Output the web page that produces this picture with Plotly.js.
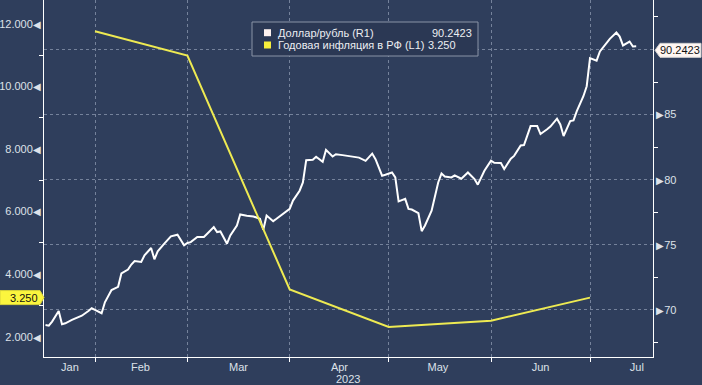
<!DOCTYPE html>
<html><head><meta charset="utf-8">
<script src="https://cdn.plot.ly/plotly-3.0.1.min.js"></script>
<style>html,body{margin:0;padding:0;background:#2f3e5c;} #chart{width:702px;height:385px;}</style>
</head><body><div id="chart"></div>
<script>
// ---- data ----
const usdDates = ['2023-01-16','2023-01-17','2023-01-18','2023-01-20','2023-01-21','2023-01-22','2023-01-24','2023-01-27','2023-01-29','2023-01-30','2023-01-31',
'2023-02-02','2023-02-03','2023-02-04','2023-02-05','2023-02-07','2023-02-08','2023-02-10','2023-02-11','2023-02-12','2023-02-14','2023-02-15','2023-02-17','2023-02-18','2023-02-19','2023-02-21','2023-02-23','2023-02-25','2023-02-27','2023-02-28',
'2023-03-01','2023-03-03','2023-03-05','2023-03-06','2023-03-08','2023-03-09','2023-03-10','2023-03-12','2023-03-13','2023-03-15','2023-03-16','2023-03-18','2023-03-20','2023-03-22','2023-03-23','2023-03-24','2023-03-26','2023-03-27','2023-03-29','2023-03-30','2023-03-31',
'2023-04-01','2023-04-03','2023-04-04','2023-04-05','2023-04-07','2023-04-08','2023-04-10','2023-04-11','2023-04-13','2023-04-14','2023-04-16','2023-04-18','2023-04-21','2023-04-23','2023-04-25','2023-04-26','2023-04-28','2023-04-29',
'2023-05-01','2023-05-02','2023-05-03','2023-05-05','2023-05-06','2023-05-07','2023-05-09','2023-05-10','2023-05-11','2023-05-13','2023-05-15','2023-05-16','2023-05-17','2023-05-19','2023-05-20','2023-05-22','2023-05-24','2023-05-26','2023-05-27','2023-05-29','2023-05-31',
'2023-06-01','2023-06-03','2023-06-04','2023-06-06','2023-06-07','2023-06-09','2023-06-10','2023-06-11','2023-06-12','2023-06-14','2023-06-15','2023-06-17','2023-06-18','2023-06-20','2023-06-21','2023-06-22','2023-06-24','2023-06-25','2023-06-26','2023-06-28','2023-06-29','2023-06-30',
'2023-07-02','2023-07-03','2023-07-05','2023-07-06','2023-07-08','2023-07-09','2023-07-10','2023-07-12','2023-07-13','2023-07-14'];
const usdValues = [68.85,68.80,69.11,69.92,68.91,68.98,69.24,69.56,69.92,70.13,70.00,
69.75,70.59,71.02,71.53,71.78,72.80,73.11,73.49,73.76,73.69,74.20,74.76,73.89,74.50,75.09,75.65,75.78,74.96,75.14,
75.21,75.60,75.60,75.85,76.36,75.98,76.03,75.09,75.73,76.49,77.33,77.23,77.18,77.00,76.16,77.25,76.82,77.00,77.38,77.56,77.76,
78.40,79.16,79.79,81.50,81.53,81.76,81.37,82.29,81.78,81.96,81.89,81.83,81.70,81.45,82.01,81.58,80.31,80.38,
80.56,80.18,78.34,78.53,77.76,77.71,77.43,76.05,76.49,77.63,79.79,80.48,80.25,80.18,80.34,80.08,80.56,80.05,79.62,80.69,81.47,
81.30,81.28,80.82,81.62,81.83,82.63,82.66,83.36,84.12,84.12,83.51,83.87,84.08,84.69,84.25,83.36,84.50,84.56,85.27,86.41,87.18,89.34,
89.14,89.85,90.48,90.82,91.30,90.99,90.31,90.61,90.23,90.2423];
const inflDates = ['2023-01-31','2023-02-28','2023-03-31','2023-04-30','2023-05-31','2023-06-30'];
const inflValues = [11.77,10.99,3.51,2.31,2.51,3.25];
const seriesNames = ['Доллар/рубль (R1)','Годовая инфляция в РФ (L1)'];
const monthLabels = ['Jan','Feb','Mar','Apr','May','Jun','Jul'];
const monthLabelDates = ['2023-01-23 10:00','2023-02-13 19:00','2023-03-15 12:00','2023-04-15 02:00','2023-05-14 22:00','2023-06-15 00:00','2023-07-14 05:00'];
const monthGridDates = ['2023-01-31','2023-02-28','2023-03-31','2023-04-30','2023-05-31','2023-06-30'];
const yearLabel = '2023';
const leftTicks = [2,4,6,8,10,12];
const leftMinor = [3,5,7,9,11];
const rightTicks = [70,75,80,85,90];
const rightMinor = [67.5,72.5,77.5,82.5,87.5,92.5];

// ---- styling / geometry ----
const BG = '#2f3e5c', GRID = '#75829b', TXT = '#dde1e8';
const FONT = 'Liberation Sans, Arial, sans-serif';
const W = 702, H = 385, M = {l:44, r:49, t:0, b:28};
const PW = W - M.l - M.r, PH = H - M.t - M.b;
const px = x => (x - M.l) / PW;
const py = y => (H - M.b - y) / PH;
const R_RANGE = [66.39, 93.80];   // right axis (dollar)
const L_RANGE = [1.35, 12.77];    // left axis (inflation)
const usdColor = '#ffffff', inflColor = '#eeea52';

const usdLast = usdValues[usdValues.length - 1];
const inflLast = inflValues[inflValues.length - 1];
const lastLabels = [usdLast.toFixed(4), inflLast.toFixed(3)];

const traces = [
  {x: usdDates, y: usdValues, type: 'scatter', mode: 'lines', name: seriesNames[0],
   yaxis: 'y', line: {color: usdColor, width: 2}, hoverinfo: 'skip'},
  {x: inflDates, y: inflValues, type: 'scatter', mode: 'lines', name: seriesNames[1],
   yaxis: 'y2', line: {color: inflColor, width: 2}, hoverinfo: 'skip'}
];

const tri = c => '<span style="font-size:10px">' + c + '</span>';

// value tags on axes
const rYc = (usdLast - R_RANGE[0]) / (R_RANGE[1] - R_RANGE[0]) - 4 / PH;
const lYc = (inflLast - L_RANGE[0]) / (L_RANGE[1] - L_RANGE[0]);
const hh = 7 / PH;
const shapes = [
  // legend box
  {type:'rect', xref:'paper', yref:'paper', x0:px(252), x1:px(478), y0:py(56), y1:py(22),
   fillcolor:'#2b3854', line:{color:'#8a93a6', width:1}},
  {type:'rect', xref:'paper', yref:'paper', x0:px(264), x1:px(271), y0:py(36.2), y1:py(29.2),
   fillcolor:'#fdf1ef', line:{width:0}},
  {type:'rect', xref:'paper', yref:'paper', x0:px(264), x1:px(271), y0:py(48.5), y1:py(41.5),
   fillcolor:'#f6ee3c', line:{width:0}},
  // right value tag
  {type:'path', xref:'paper', yref:'paper', fillcolor:'#fff6f2', line:{color:'#cfcfcf', width:1},
   path:'M'+px(655)+','+rYc+' L'+px(660)+','+(rYc+hh)+' L'+px(701)+','+(rYc+hh)+' L'+px(701)+','+(rYc-hh)+' L'+px(660)+','+(rYc-hh)+' Z'},
  // left value tag
  {type:'path', xref:'paper', yref:'paper', fillcolor:'#fbf53e', line:{color:'#d8d23a', width:1},
   path:'M'+px(0)+','+(lYc+hh)+' L'+px(40)+','+(lYc+hh)+' L'+px(44)+','+lYc+' L'+px(40)+','+(lYc-hh)+' L'+px(0)+','+(lYc-hh)+' Z'}
];

const annotations = [
  {xref:'paper', yref:'paper', x:px(276), y:py(32.7), xanchor:'left', yanchor:'middle', text:seriesNames[0], showarrow:false, font:{size:11, color:'#eceef2'}},
  {xref:'paper', yref:'paper', x:px(276), y:py(45), xanchor:'left', yanchor:'middle', text:seriesNames[1], showarrow:false, font:{size:11, color:'#eceef2'}},
  {xref:'paper', yref:'paper', x:px(430), y:py(32.7), xanchor:'left', yanchor:'middle', text:lastLabels[0], showarrow:false, font:{size:11, color:'#eceef2'}},
  {xref:'paper', yref:'paper', x:px(426), y:py(45), xanchor:'left', yanchor:'middle', text:lastLabels[1], showarrow:false, font:{size:11, color:'#eceef2'}},
  {xref:'paper', yref:'paper', x:px(680), y:rYc, xanchor:'center', yanchor:'middle', text:lastLabels[0], showarrow:false, font:{size:11, color:'#111111'}},
  {xref:'paper', yref:'paper', x:px(24), y:lYc, xanchor:'center', yanchor:'middle', text:lastLabels[1], showarrow:false, font:{size:11, color:'#111111'}},
  {xref:'paper', yref:'paper', x:px(348), y:0, xanchor:'center', yanchor:'top', yshift:-14, text:yearLabel, showarrow:false, font:{size:11, color:TXT}}
];

const layout = {
  width: W, height: H, margin: M, autosize: false,
  paper_bgcolor: BG, plot_bgcolor: BG, showlegend: false,
  font: {family: FONT, size: 11, color: TXT},
  xaxis: {type:'date', range:['2023-01-15 13:05','2023-07-19 02:11'], tickmode:'array',
    tickvals: monthLabelDates, ticktext: monthLabels, ticks:'', showgrid:false,
    showline:true, linecolor:'#ffffff', linewidth:1, zeroline:false, fixedrange:true,
    tickfont:{size:11, color:TXT},
    minor:{tickmode:'array', tickvals: monthGridDates, ticks:'outside', ticklen:4, tickwidth:1,
      tickcolor:'#ffffff', showgrid:true, gridcolor:GRID, griddash:'3px,3px', gridwidth:1}},
  yaxis: {side:'right', range:R_RANGE, tickmode:'array', tickvals: rightTicks,
    ticktext: rightTicks.map(v => v === 90 ? '' : tri('▶') + v), ticks:'',
    showgrid:true, gridcolor:GRID, griddash:'3px,3px', gridwidth:1,
    showline:true, linecolor:'#ffffff', linewidth:1, zeroline:false, fixedrange:true,
    tickfont:{size:11, color:TXT},
    minor:{tickmode:'array', tickvals: rightMinor, ticks:'outside', ticklen:4, tickwidth:1, tickcolor:'#ffffff', showgrid:false}},
  yaxis2: {overlaying:'y', side:'left', range:L_RANGE, tickmode:'array', tickvals: leftTicks,
    ticktext: leftTicks.map(v => v.toFixed(3) + tri('◀')), ticks:'', showgrid:false,
    showline:true, linecolor:'#ffffff', linewidth:1, zeroline:false, fixedrange:true,
    tickfont:{size:11, color:TXT},
    minor:{tickmode:'array', tickvals: leftMinor, ticks:'outside', ticklen:4, tickwidth:1, tickcolor:'#ffffff', showgrid:false}},
  shapes: shapes,
  annotations: annotations
};

Plotly.newPlot('chart', traces, layout, {displayModeBar:false, staticPlot:true});
</script>
</body></html>
